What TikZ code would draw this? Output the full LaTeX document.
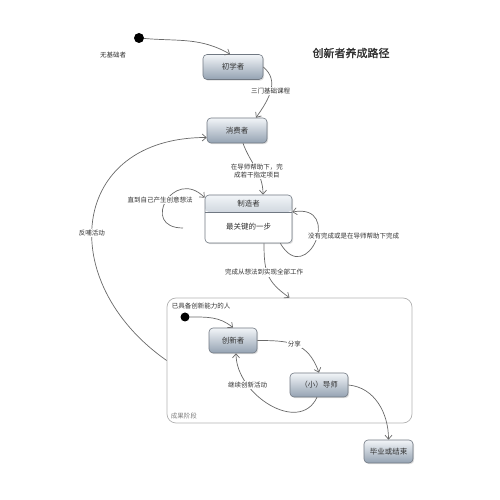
\documentclass[tikz,border=0pt]{standalone}
\usepackage{fontspec}
\setmainfont{Noto Sans CJK SC}[AutoFakeBold=1.5]
\usepackage{tikz}
\usetikzlibrary{arrows.meta, positioning, shadows}
\definecolor{boxtop}{RGB}{242, 245, 248}
\definecolor{boxbottom}{RGB}{148, 162, 178}
\definecolor{boxline}{RGB}{112, 120, 130}
\definecolor{flowgray}{RGB}{105, 105, 105}
\definecolor{inkgray}{RGB}{50, 50, 50}
\definecolor{framegray}{RGB}{178, 178, 178}

\begin{document}
\begin{tikzpicture}[
    x=1pt, y=1pt,
    stateframe/.style={
        rectangle, draw=boxline, line width=0.6pt, rounded corners=4pt, inner sep=2pt,
        drop shadow={opacity=0.25, shadow xshift=1.2pt, shadow yshift=-1.2pt}
    },
    state/.style={
        stateframe, top color=boxtop, bottom color=boxbottom,
        minimum width=60pt, minimum height=25pt,
        font=\fontsize{7.5}{9}\selectfont, text=inkgray
    },
    flow/.style={
        -{Straight Barb[length=4pt, width=7pt]}, line width=0.7pt, draw=flowgray
    },
    note/.style={
        font=\fontsize{6.5}{8}\selectfont, text=inkgray, fill=white, inner sep=1pt
    },
    startdot/.style={circle, fill=black, inner sep=0pt, minimum size=10pt}
]
\useasboundingbox (0,0) rectangle (500,500);

% Title (top right)
\node[font=\fontsize{11}{13}\selectfont\bfseries, text=inkgray] (title) at (351,447) {创新者养成路径};

% Entry point and first states
\node[startdot] (start) at (139,462) {};
\node[note] (lblnobase) at (113,445) {无基础者};
\node[state] (beginner) at (233,433) {初学者};
\node[state] (consumer) at (237,369.5) {消费者};

% Maker (two compartments)
\node[stateframe, fill=white, minimum width=87pt, minimum height=48pt,
    path picture={
        \shade[top color=boxtop, bottom color=boxbottom] (path picture bounding box.north west) rectangle ([yshift=-17pt]path picture bounding box.north east);
        \draw[boxline, line width=0.4pt] ([yshift=-17pt]path picture bounding box.north west) -- ([yshift=-17pt]path picture bounding box.north east);
    }] (maker) at (248.5,281) {};
\node[font=\fontsize{7.5}{9}\selectfont, text=inkgray] (makertitle) at ([yshift=-8.5pt]maker.north) {制造者};
\node[font=\fontsize{7.5}{9}\selectfont, text=inkgray] (makerbody) at ([yshift=-32pt]maker.north) {最关键的一步};

% Result stage (container)
\node[draw=framegray, line width=0.7pt, rounded corners=9pt, minimum width=245pt, minimum height=125pt] (stage) at (289.5,139.5) {};
\node[note, anchor=west] (stagetop) at ([xshift=4pt, yshift=-8pt]stage.north west) {已具备创新能力的人};
\node[note, anchor=west, text=gray] (stagebottom) at ([xshift=3pt, yshift=7pt]stage.south west) {成果阶段};
\node[startdot, minimum size=9pt] (start2) at (185,183) {};
\node[state, minimum width=48pt] (innovator) at (233,159.5) {创新者};
\node[state, minimum width=58pt, minimum height=24pt] (mentor) at (319,115) {（小）导师};
\node[state, minimum width=49pt, minimum height=23pt] (finish) at (388.5,48.5) {毕业或结束};

% Transitions
\draw[flow] (start) to[out=-5, in=150] ([xshift=-3pt]beginner.north);
\draw[flow] (beginner.east) to[out=-40, in=55, looseness=1.1] node[note, pos=0.5] (lblbasic) {三门基础课程} ([xshift=19pt]consumer.north);
\draw[flow] ([xshift=6pt]consumer.south) to[out=-70, in=90] node[note, pos=0.55, align=center] (lblguide) {在导师帮助下，完\\成若干指定项目} ([xshift=14.5pt]maker.north);
\draw[flow] ([xshift=15.5pt]maker.south) to[out=-90, in=145, looseness=1.2] node[note, pos=0.45, xshift=-3pt] (lbldone) {完成从想法到实现全部工作} (stage.north);
\draw[flow] (start2) to[out=0, in=140] (innovator.north);
\draw[flow] (innovator.east) to[out=0, in=110, looseness=1.2] node[note, pos=0.47] (lblshare) {分享} (mentor.north);
\draw[flow] ([xshift=-2pt]mentor.south) to[out=-115, in=-90, looseness=1.15] node[note, pos=0.73] (lblagain) {继续创新活动} ([xshift=3pt]innovator.south);
\draw[flow] (mentor.east) to[out=-5, in=90] (finish.north);
\draw[flow] (stage.west) to[out=145, in=180, looseness=1.55] node[note, pos=0.45] (lblfeed) {反哺活动} ([yshift=-7pt]consumer.west);

% Self loops on maker
\coordinate (loopstart) at (183,272);
\draw[flow] (loopstart) to[out=180, in=135, looseness=3] ([yshift=-3pt]maker.north west);
\node[note] (lblidea) at (160,300) {直到自己产生创意想法};
\draw[flow] ([xshift=-12pt]maker.south east) to[out=-60, in=10, looseness=4] ([yshift=7pt]maker.east);
\node[note, anchor=west] (lblretry) at (307,264) {没有完成或是在导师帮助下完成};

\end{tikzpicture}
\end{document}
